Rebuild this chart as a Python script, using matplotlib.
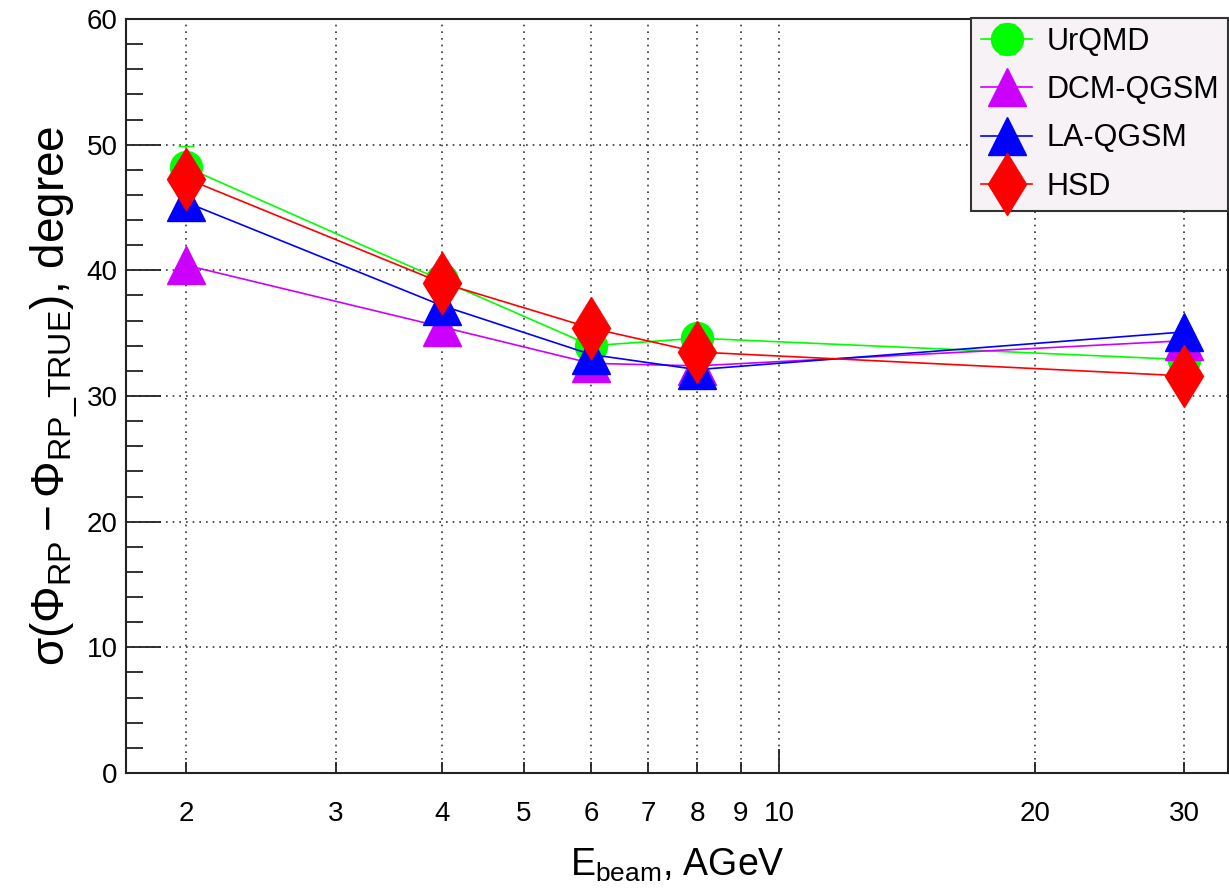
import matplotlib
matplotlib.use("Agg")
import matplotlib.pyplot as plt
from matplotlib.ticker import FixedLocator, FixedFormatter, NullFormatter

plt.rcParams["font.family"] = ["Liberation Sans", "DejaVu Sans"]
plt.rcParams["mathtext.fontset"] = "custom"
plt.rcParams["mathtext.rm"] = "Liberation Sans"
plt.rcParams["mathtext.it"] = "Liberation Sans"
plt.rcParams["mathtext.sf"] = "Liberation Sans"

# beam energies, AGeV
energy = [2, 4, 6, 8, 30]

# resolution of the reaction plane angle, degree
urqmd = [48.2, 39.2, 34.0, 34.6, 32.9]
dcm_qgsm = [40.4, 35.5, 32.6, 32.4, 34.4]
la_qgsm = [45.4, 37.2, 33.3, 32.1, 35.1]
hsd = [47.3, 39.0, 35.4, 33.5, 31.6]

urqmd_err = [1.7, 0.4, 0.4, 0.4, 0.4]

x_minor_ticks = [2, 3, 4, 5, 6, 7, 8, 9, 20, 30]
x_minor_labels = ["2", "3", "4", "5", "6", "7", "8", "9", "20", "30"]
x_major_ticks = [10]
x_major_labels = ["10"]

fig = plt.figure(figsize=(12.29, 8.89), dpi=100)
ax = fig.add_axes([0.1025, 0.1305, 0.8967, 0.8481])

h1 = ax.errorbar(energy, urqmd, yerr=urqmd_err, color="#00ff00", marker="o",
                 markersize=23, lw=1.2, capsize=6, elinewidth=1.2,
                 label="UrQMD", zorder=2.0)
h2, = ax.plot(energy, dcm_qgsm, color="#cc00ff", marker="^", markersize=27,
              lw=1.2, label="DCM-QGSM", zorder=2.1)
h3, = ax.plot(energy, la_qgsm, color="#0000ff", marker="^", markersize=27,
              lw=1.2, label="LA-QGSM", zorder=2.2)
h4, = ax.plot(energy, hsd, color="#ff0000", marker="d", markersize=32,
              lw=1.2, label="HSD", zorder=2.3)

ax.set_xscale("log")
ax.set_xlim(1.697, 33.8)
ax.set_ylim(0, 60)

# ROOT style log axis: long tick at 10, short labelled ticks elsewhere
ax.xaxis.set_major_locator(FixedLocator(x_major_ticks))
ax.xaxis.set_major_formatter(FixedFormatter(x_major_labels))
ax.xaxis.set_minor_locator(FixedLocator(x_minor_ticks))
ax.xaxis.set_minor_formatter(FixedFormatter(x_minor_labels))
ax.set_yticks(range(0, 61, 10))
ax.set_yticks(range(0, 61, 2), minor=True)
ax.yaxis.set_minor_formatter(NullFormatter())

ax.tick_params(axis="both", which="both", direction="in", color="#222222",
               labelsize=20, width=1.3)
ax.tick_params(axis="x", which="major", length=17, pad=20)
ax.tick_params(axis="x", which="minor", length=8, pad=20)
ax.tick_params(axis="y", which="major", length=25, pad=6, right=False)
ax.tick_params(axis="y", which="minor", length=12)
ax.tick_params(top=False, which="both")

ax.grid(True, which="both", axis="x", linestyle=(0, (1, 3)), color="#333333", lw=1.2)
ax.grid(True, which="major", axis="y", linestyle=(0, (1, 3)), color="#333333", lw=1.2)

for s in ax.spines.values():
    s.set_color("#222222")
    s.set_linewidth(1.5)

ax.set_xlabel(r"E$_{\rm beam}$, AGeV", fontsize=27, labelpad=14)
ax.set_ylabel(r"$\sigma(\Phi_{\rm RP} - \Phi_{\rm RP\_TRUE})$, degree", fontsize=33, labelpad=5)

leg = ax.legend([h1, h2, h3, h4], ["UrQMD", "DCM-QGSM", "LA-QGSM", "HSD"],
                loc="upper right", bbox_to_anchor=(1.0, 1.002), fontsize=22,
                frameon=True, fancybox=False, handlelength=1.7, borderpad=0.3,
                labelspacing=0.6, handletextpad=0.45, borderaxespad=0)
leg.get_frame().set_facecolor("#f6f2f6")
leg.get_frame().set_edgecolor("#333333")
leg.get_frame().set_linewidth(1.5)
leg.get_frame().set_alpha(1)

fig.savefig("out.png", dpi=100)
